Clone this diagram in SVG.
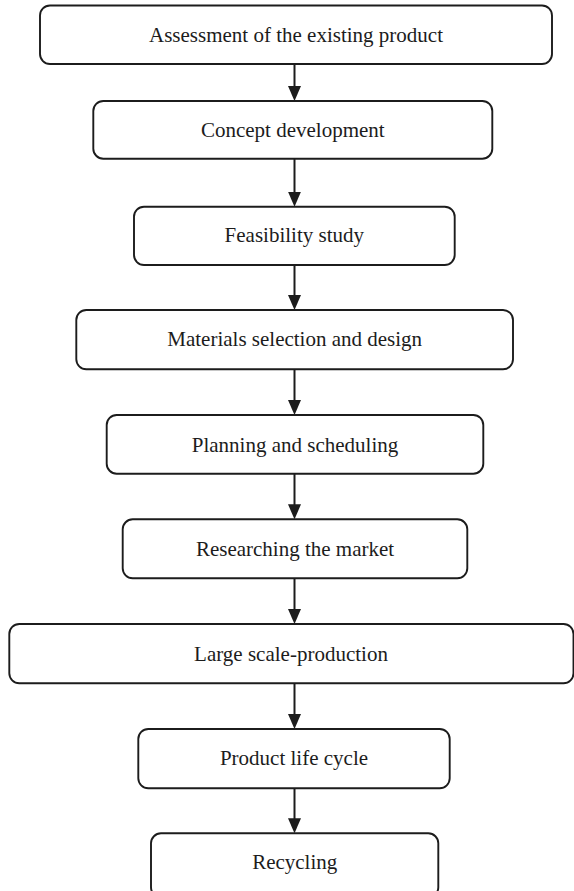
<svg xmlns="http://www.w3.org/2000/svg" width="574" height="891" viewBox="0 0 574 891">
  <style>
    .box { fill: #ffffff; stroke: #1c1c1c; stroke-width: 1.9; }
    .label { font-family: "Liberation Serif", "Times New Roman", serif; font-size: 21px; fill: #1c1c1c; text-anchor: middle; }
    .conn { stroke: #1c1c1c; stroke-width: 2; fill: none; marker-end: url(#arrow); }
  </style>
  <defs>
    <marker id="arrow" markerUnits="userSpaceOnUse" viewBox="0 0 15 13" markerWidth="15" markerHeight="13" refX="7" refY="6.5" orient="auto">
      <path d="M0,0 L15,6.5 L0,13 Z" fill="#1c1c1c"/>
    </marker>
  </defs>
  <rect width="574" height="891" fill="#ffffff"/>

  <g id="connectors">
    <line class="conn" x1="294.5" y1="64" x2="294.5" y2="93"/>
    <line class="conn" x1="294.5" y1="158.7" x2="294.5" y2="198.7"/>
    <line class="conn" x1="294.5" y1="265" x2="294.5" y2="302"/>
    <line class="conn" x1="294.5" y1="369.3" x2="294.5" y2="407"/>
    <line class="conn" x1="294.5" y1="473.7" x2="294.5" y2="511.3"/>
    <line class="conn" x1="294.5" y1="578.3" x2="294.5" y2="616"/>
    <line class="conn" x1="294.5" y1="683.3" x2="294.5" y2="721"/>
    <line class="conn" x1="294.5" y1="788.3" x2="294.5" y2="825.3"/>
  </g>

  <g id="assessment">
    <rect class="box" x="40" y="5.5" width="512" height="58.5" rx="10"/>
    <text class="label" x="296" y="41.5">Assessment of the existing product</text>
  </g>
  <g id="concept">
    <rect class="box" x="93.3" y="101" width="399" height="57.7" rx="10"/>
    <text class="label" x="292.8" y="136.7">Concept development</text>
  </g>
  <g id="feasibility">
    <rect class="box" x="134" y="206.7" width="320.7" height="58.3" rx="10"/>
    <text class="label" x="294.3" y="242.3">Feasibility study</text>
  </g>
  <g id="materials">
    <rect class="box" x="76.3" y="310" width="436.7" height="59.3" rx="10"/>
    <text class="label" x="294.7" y="346">Materials selection and design</text>
  </g>
  <g id="planning">
    <rect class="box" x="106.7" y="415" width="376.6" height="58.7" rx="10"/>
    <text class="label" x="295" y="451.7">Planning and scheduling</text>
  </g>
  <g id="researching">
    <rect class="box" x="122.7" y="519.3" width="344.6" height="59" rx="10"/>
    <text class="label" x="295" y="556">Researching the market</text>
  </g>
  <g id="production">
    <rect class="box" x="9.3" y="624" width="564.2" height="59.3" rx="10"/>
    <text class="label" x="291" y="660.7">Large scale-production</text>
  </g>
  <g id="lifecycle">
    <rect class="box" x="138.3" y="729" width="311.4" height="59.3" rx="10"/>
    <text class="label" x="294" y="765">Product life cycle</text>
  </g>
  <g id="recycling">
    <rect class="box" x="151" y="833.3" width="287.3" height="64" rx="10"/>
    <text class="label" x="294.7" y="869.3">Recycling</text>
  </g>
</svg>
